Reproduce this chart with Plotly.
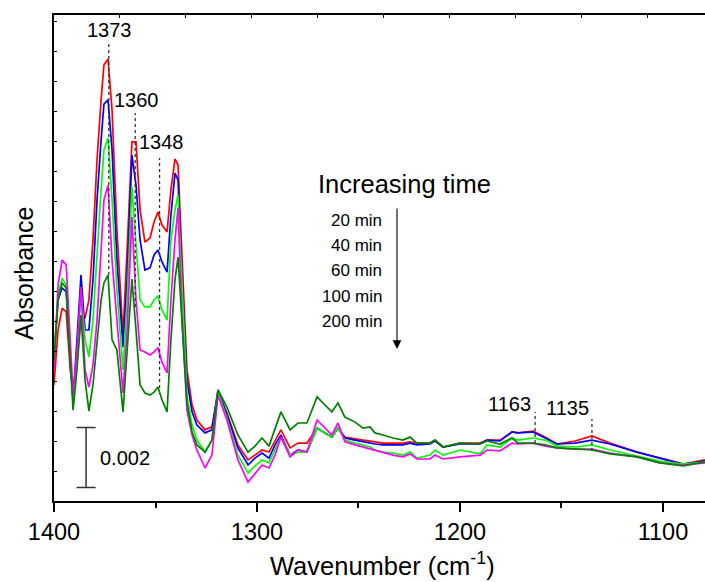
import plotly.graph_objects as go

# ---------------- data (absorbance in units of 1e-3, arbitrary baseline) ----------------
wavenumber = [1400, 1398, 1396, 1394, 1392, 1390.6, 1388.7, 1386.7, 1384.7, 1382.8,
              1380.8, 1378.8, 1376.8, 1375.4, 1373.4, 1371.4, 1369, 1366, 1364, 1361.6,
              1359.6, 1357.6, 1355.2, 1352.7, 1350.7, 1348.8, 1346.8, 1344.3, 1342.4, 1340.4,
              1338.9, 1336.9, 1334.5, 1332, 1329.6, 1325.6, 1322.2, 1319.2, 1314.8, 1309.4,
              1304.4, 1301, 1297.5, 1294.1, 1291.1, 1288.2, 1283.7, 1279.8, 1275.4, 1270.4,
              1266.5, 1263.1, 1260.1, 1256.7, 1251.7, 1247.8, 1244.3, 1241.9, 1237.9, 1233,
              1228.1, 1224.6, 1221.2, 1214.8, 1212.3, 1208.4, 1200, 1190.1, 1186.7, 1180.3,
              1174.4, 1171.4, 1164, 1158.1, 1152.2, 1143.3, 1135, 1126.1, 1112.8, 1101.5,
              1090.1, 1079.3]

abs_20min = [3.87, 5.70, 6.43, 6.30, 4.37, 3.70, 4.70, 6.10, 6.10, 6.70,
             8.70, 11.37, 13.37, 14.53, 14.73, 13.03, 9.03, 5.53, 8.37, 11.97,
             11.97, 9.70, 8.63, 8.77, 9.30, 9.63, 9.20, 8.97, 10.37, 11.40,
             11.20, 8.03, 4.37, 3.20, 2.70, 2.37, 2.47, 3.63, 2.93, 1.87,
             1.37, 1.53, 1.70, 1.63, 2.03, 2.37, 1.77, 1.93, 1.93, 2.43,
             2.27, 2.13, 2.43, 2.13, 2.07, 2.03, 2.00, 1.97, 1.93, 1.93,
             1.93, 1.97, 1.93, 1.93, 2.03, 1.80, 1.93, 1.93, 2.03, 2.03,
             2.30, 2.27, 2.33, 2.13, 1.90, 2.00, 2.17, 1.93, 1.63, 1.43,
             1.23, 1.37]

abs_40min = [4.70, 6.70, 7.10, 6.97, 4.70, 3.37, 5.37, 7.53, 5.70, 5.70,
             7.37, 10.03, 12.03, 13.23, 13.37, 11.70, 8.03, 5.13, 7.37, 11.53,
             10.53, 8.70, 7.70, 7.77, 8.20, 8.37, 7.97, 7.63, 9.53, 10.93,
             10.70, 7.37, 4.03, 2.97, 2.53, 2.27, 2.37, 3.70, 2.87, 1.77,
             1.20, 1.43, 1.60, 1.43, 1.87, 2.20, 1.53, 1.70, 1.63, 2.43,
             2.27, 2.13, 2.43, 2.10, 2.03, 1.97, 1.93, 1.90, 1.87, 1.87,
             1.87, 1.93, 1.87, 1.90, 2.00, 1.80, 1.90, 1.90, 2.03, 2.00,
             2.30, 2.27, 2.30, 2.10, 1.90, 1.93, 2.03, 1.90, 1.63, 1.43,
             1.23, 1.33]

abs_60min = [4.87, 6.87, 7.43, 7.20, 4.87, 3.37, 4.70, 7.03, 5.37, 4.80,
             6.03, 8.37, 10.37, 11.70, 12.10, 10.03, 7.03, 4.37, 6.70, 10.47,
             8.70, 6.70, 6.47, 6.47, 6.70, 6.83, 6.37, 6.03, 8.70, 9.70,
             10.20, 7.03, 3.53, 2.53, 2.03, 1.63, 2.03, 3.63, 2.77, 1.53,
             0.93, 1.17, 1.37, 1.27, 1.70, 2.13, 1.53, 1.63, 1.63, 2.43,
             2.27, 2.13, 2.43, 2.03, 1.93, 1.87, 1.80, 1.70, 1.63, 1.60,
             1.53, 1.63, 1.43, 1.53, 1.70, 1.53, 1.70, 1.57, 1.87, 1.80,
             2.10, 2.03, 2.10, 2.03, 1.83, 1.80, 1.87, 1.70, 1.50, 1.33,
             1.23, 1.30]

abs_100min = [4.37, 7.20, 8.03, 7.87, 5.37, 3.53, 5.03, 7.13, 4.37, 3.80,
              4.53, 6.03, 8.37, 10.03, 10.53, 8.03, 6.03, 3.60, 5.70, 9.47,
              6.70, 5.03, 4.97, 4.87, 4.97, 5.10, 4.63, 4.27, 6.70, 8.70,
              9.77, 6.03, 3.03, 2.20, 1.70, 1.10, 1.53, 3.53, 2.70, 1.37,
              0.63, 0.90, 1.20, 1.10, 1.53, 2.13, 1.47, 1.70, 1.63, 2.70,
              2.43, 2.20, 2.60, 1.97, 1.87, 1.80, 1.73, 1.67, 1.60, 1.53,
              1.47, 1.57, 1.40, 1.40, 1.53, 1.40, 1.47, 1.53, 1.70, 1.67,
              1.93, 1.90, 1.93, 1.83, 1.77, 1.73, 1.73, 1.60, 1.47, 1.27,
              1.20, 1.27]

abs_200min = [4.70, 6.70, 7.27, 7.10, 4.70, 3.03, 4.37, 6.20, 4.03, 3.00,
              3.87, 5.20, 6.70, 7.27, 7.53, 5.37, 5.03, 2.97, 5.03, 7.40,
              5.70, 3.87, 3.60, 3.53, 3.63, 3.80, 3.37, 2.97, 5.37, 7.37,
              8.13, 6.03, 3.27, 2.30, 1.87, 1.63, 2.03, 3.70, 3.13, 2.20,
              1.63, 1.83, 2.10, 1.83, 2.43, 2.97, 2.37, 2.60, 2.60, 3.47,
              3.20, 2.97, 3.27, 2.80, 2.63, 2.43, 2.47, 2.27, 2.20, 2.10,
              2.03, 2.13, 1.93, 1.93, 2.03, 1.80, 1.93, 1.90, 2.00, 1.90,
              2.10, 1.93, 1.93, 1.87, 1.77, 1.73, 1.70, 1.57, 1.47, 1.27,
              1.17, 1.30]

series_names = ["20 min", "40 min", "60 min", "100 min", "200 min"]
series_values = [abs_20min, abs_40min, abs_60min, abs_100min, abs_200min]
series_colors = ["#FF0000", "#0000FF", "#00FF00", "#FF00FF", "#008000"]

# peak labels: position, top and bottom of dashed marker (1e-3 absorbance)
peak_labels = [1373, 1360, 1348, 1163, 1135]
peak_line_top = [15.27, 12.93, 11.43, 2.97, 2.73]
peak_line_bottom = [7.53, 6.47, 3.77, 1.93, 1.67]

x_ticks = [1400, 1300, 1200, 1100]
scale_bar_value = 0.002  # absorbance

for s in series_values:
    assert len(s) == len(wavenumber)

# ---------------- geometry ----------------
W, H = 705, 582
ML, MR, MT, MB = 54, 0, 15, 81
PW, PH = W - ML - MR, H - MT - MB
FONT = "Arial, 'Liberation Sans', sans-serif"


def px(xp):
    return (xp - ML) / PW


def py(yp):
    return (H - MB - yp) / PH


fig = go.Figure()
for name, vals, col in zip(series_names, series_values, series_colors):
    fig.add_trace(go.Scatter(x=wavenumber, y=vals, mode="lines", name=name,
                             line=dict(color=col, width=1.7), showlegend=False))

shapes = []
annotations = []

# dashed peak markers and labels
label_style = {
    1373: dict(xanchor="center", xshift=1, yshift=0),
    1360: dict(xanchor="center", xshift=1, yshift=0),
    1348: dict(xanchor="center", xshift=2, yshift=3),
    1163: dict(xanchor="right", xshift=-2, yshift=-5),
    1135: dict(xanchor="right", xshift=-1, yshift=-2),
}
for wn, top, bot in zip(peak_labels, peak_line_top, peak_line_bottom):
    shapes.append(dict(type="line", xref="x", yref="y", x0=wn, x1=wn, y0=bot, y1=top,
                       line=dict(color="#333333", width=1.3, dash="dot")))
    st = label_style[wn]
    annotations.append(dict(x=wn, y=top, xref="x", yref="y", text=str(wn),
                            showarrow=False, xanchor=st["xanchor"], yanchor="bottom",
                            xshift=st["xshift"], yshift=st["yshift"],
                            font=dict(family=FONT, size=20, color="black")))

# scale bar (0.002 absorbance)
bar_x = 1384.2
bar_y0 = 0.45
bar_y1 = bar_y0 + scale_bar_value * 1000
bar_cap = 4.7
bar_line = dict(color="#333333", width=1.5)
shapes.append(dict(type="line", xref="x", yref="y", x0=bar_x, x1=bar_x, y0=bar_y0, y1=bar_y1, line=bar_line))
shapes.append(dict(type="line", xref="x", yref="y", x0=bar_x + bar_cap, x1=bar_x - bar_cap, y0=bar_y0, y1=bar_y0, line=bar_line))
shapes.append(dict(type="line", xref="x", yref="y", x0=bar_x + bar_cap, x1=bar_x - bar_cap, y0=bar_y1, y1=bar_y1, line=bar_line))
annotations.append(dict(x=bar_x - 6, y=(bar_y0 + bar_y1) / 2, xref="x", yref="y",
                        text=f"{scale_bar_value:.3f}", showarrow=False,
                        xanchor="left", yanchor="middle",
                        font=dict(family=FONT, size=20, color="black")))

# "Increasing time" legend text and arrow
annotations.append(dict(x=px(316), y=py(184), xref="paper", yref="paper", text="Increasing time",
                        showarrow=False, xanchor="left", yanchor="middle",
                        font=dict(family=FONT, size=25.5, color="black")))
for i, name in enumerate(series_names):
    annotations.append(dict(x=px(384), y=py(220 + 25.4 * i), xref="paper", yref="paper",
                            text=name, showarrow=False, xanchor="right", yanchor="middle",
                            font=dict(family=FONT, size=17, color="black")))
annotations.append(dict(x=px(397), y=py(349), xref="paper", yref="paper", text="",
                        showarrow=True, ax=0, ay=-142, axref="pixel", ayref="pixel",
                        arrowhead=2, arrowsize=1.6, arrowwidth=1.1, arrowcolor="black",
                        standoff=0, startstandoff=0))

# axis titles
annotations.append(dict(x=px(382), y=py(564), xref="paper", yref="paper",
                        text="Wavenumber (cm<sup>-1</sup>)", showarrow=False,
                        xanchor="center", yanchor="middle",
                        font=dict(family=FONT, size=25.5, color="black")))
annotations.append(dict(x=px(24), y=py(274), xref="paper", yref="paper",
                        text="Absorbance", showarrow=False, textangle=-90,
                        xanchor="center", yanchor="middle",
                        font=dict(family=FONT, size=25, color="black")))

fig.update_layout(
    width=W, height=H,
    margin=dict(l=ML, r=MR, t=MT, b=MB, pad=0),
    paper_bgcolor="white", plot_bgcolor="white",
    font=dict(family=FONT, color="black"),
    shapes=shapes, annotations=annotations,
    xaxis=dict(range=[1400, 1079.3], tickvals=x_ticks, ticktext=[str(t) for t in x_ticks],
               ticks="outside", ticklen=9, tickwidth=1.5, tickcolor="black",
               minor=dict(dtick=50, tick0=1400, ticks="outside", ticklen=5, tickwidth=1.5, tickcolor="black"),
               showline=True, linecolor="black", linewidth=2, showgrid=False, zeroline=False,
               tickfont=dict(family=FONT, size=23.5, color="black")),
    xaxis2=dict(range=[1400, 1079.3], overlaying="x", side="top", showline=True,
                linecolor="black", linewidth=1.5, ticks="inside", ticklen=3, tickwidth=1,
                tickcolor="black", tick0=1400, dtick=32.5, showticklabels=False,
                showgrid=False, zeroline=False),
    yaxis=dict(range=[0, 16.2], showline=True, linecolor="black", linewidth=2,
               ticks="inside", ticklen=3, tickwidth=1, tickcolor="black", dtick=1, tick0=0,
               showticklabels=False, showgrid=False, zeroline=False),
)
# invisible trace so the top axis is drawn
fig.add_trace(go.Scatter(x=[1400], y=[None], xaxis="x2", yaxis="y", showlegend=False,
                         hoverinfo="skip", mode="lines"))

fig.write_html("out.html",
               config={"displayModeBar": False},
               post_script="document.body.style.margin='0px';"
                           "document.body.style.overflow='hidden';")
